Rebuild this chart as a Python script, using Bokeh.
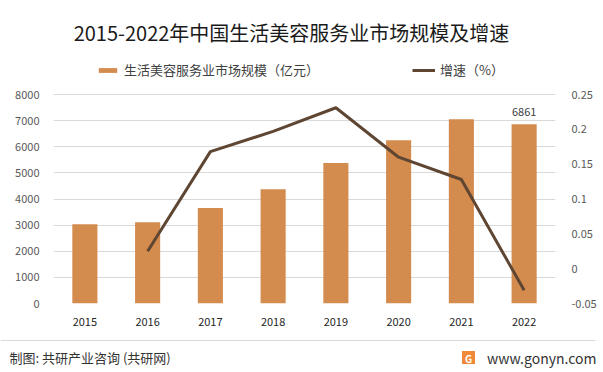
from bokeh.plotting import figure
from bokeh.layouts import column, row
from bokeh.models import (FactorRange, Range1d, LinearAxis, Legend, LegendItem,
                          FixedTicker, ColumnDataSource)
from bokeh.core.properties import value
from bokeh.embed import file_html
from bokeh.resources import INLINE

years = ["2015", "2016", "2017", "2018", "2019", "2020", "2021", "2022"]
market_size = [3032, 3109, 3656, 4371, 5377, 6245, 7048, 6861]
growth_years = ["2016", "2017", "2018", "2019", "2020", "2021", "2022"]
growth_rate = [0.025, 0.168, 0.197, 0.231, 0.160, 0.128, -0.031]
left_ticks = [0, 1000, 2000, 3000, 4000, 5000, 6000, 7000, 8000]
right_ticks = [-0.05, 0, 0.05, 0.1, 0.15, 0.2, 0.25]
right_tick_labels = {-0.05: "-0.05", 0: "0", 0.05: "0.05", 0.1: "0.1", 0.15: "0.15", 0.2: "0.2", 0.25: "0.25"}

title_text = "2015-2022年中国生活美容服务业市场规模及增速"
bar_name = "生活美容服务业市场规模（亿元）"
line_name = "增速（%）"
footer_left = "制图: 共研产业咨询 (共研网)"
footer_right = "www.gonyn.com"

BAR = "#D48B4E"
LINE = "#5E4632"
CJK = "Noto Sans CJK SC"

W = 603
H_TOP = 50
H_MAIN = 286
H_FOOT = 36

frame_h = 251
axis_h = 209
top_frac = frame_h / axis_h
left_max = 8000 * top_frac
right_max = -0.05 + 0.30 * top_frac

# ---- title figure
t = figure(width=W, height=H_TOP, x_range=Range1d(0, W), y_range=Range1d(H_TOP, 0),
           output_backend="svg", toolbar_location=None, x_axis_type=None, y_axis_type=None,
           min_border=0)
t.outline_line_color = None
t.xgrid.grid_line_color = None
t.ygrid.grid_line_color = None
t.text(x=[291], y=[32], text=[title_text], text_align="center", text_baseline="middle",
       text_font=value(CJK), text_font_size="20px", text_color="#1a1a1a")

# ---- main figure
p = figure(width=W, height=H_MAIN, x_range=FactorRange(*years, range_padding=0),
           y_range=Range1d(0, left_max), output_backend="svg", toolbar_location=None,
           min_border_left=53, min_border_right=48, min_border_top=H_MAIN - 33 - frame_h,
           min_border_bottom=33)
p.outline_line_color = None
p.background_fill_color = "white"
p.border_fill_color = "white"
p.extra_y_ranges = {"r": Range1d(-0.05, right_max)}

src = ColumnDataSource(dict(x=years, y=market_size))
bars = p.vbar(x="x", top="y", width=0.4, source=src, fill_color=BAR, line_color=None)
lsrc = ColumnDataSource(dict(x=growth_years, y=growth_rate))
ln = p.line(x="x", y="y", source=lsrc, y_range_name="r", line_color=LINE, line_width=3)

p.yaxis.ticker = FixedTicker(ticks=left_ticks)
for ax in [p.xaxis[0], p.yaxis[0]]:
    ax.axis_line_color = None
    ax.major_tick_line_color = None
    ax.minor_tick_line_color = None
    ax.major_label_text_font = CJK
    ax.major_label_text_font_size = "11px"
p.yaxis.major_label_text_color = "#595959"
p.xaxis.major_label_text_color = "#262626"
p.xaxis.major_label_standoff = 8
p.yaxis.major_label_standoff = 8

rax = LinearAxis(y_range_name="r", ticker=FixedTicker(ticks=right_ticks))
rax.major_label_overrides = right_tick_labels
rax.axis_line_color = None
rax.major_tick_line_color = None
rax.minor_tick_line_color = None
rax.major_label_text_font = CJK
rax.major_label_text_font_size = "11px"
rax.major_label_text_color = "#595959"
rax.major_label_standoff = 10
p.add_layout(rax, "right")

p.xgrid.grid_line_color = None
p.ygrid.grid_line_color = "#D9D9D9"
p.ygrid.grid_line_width = 1

p.text(x=[years[-1]], y=[market_size[-1]], text=[str(market_size[-1])], text_align="center",
       text_baseline="bottom", y_offset=-8, text_font=value(CJK), text_font_size="11px",
       text_color="#404040")

legend = Legend(items=[LegendItem(label=bar_name, renderers=[bars]),
                       LegendItem(label=line_name, renderers=[ln])],
                orientation="horizontal", location=(43, 224), glyph_width=23, glyph_height=6,
                label_height=14, label_standoff=5, spacing=93, padding=0, margin=0,
                label_text_font=CJK, label_text_font_size="13px", label_text_color="#404040",
                background_fill_alpha=0, border_line_color=None)
p.add_layout(legend, "center")

# ---- footer figure
f = figure(width=W, height=H_FOOT, x_range=Range1d(0, W), y_range=Range1d(H_FOOT, 0),
           output_backend="svg", toolbar_location=None, x_axis_type=None, y_axis_type=None,
           min_border=0)
f.outline_line_color = None
f.xgrid.grid_line_color = None
f.ygrid.grid_line_color = None
f.segment(x0=[0], y0=[4], x1=[595], y1=[4], line_color="#DADADA", line_width=1)
f.text(x=[9], y=[21], text=[footer_left], text_align="left", text_baseline="middle",
       text_font=value(CJK), text_font_size="13px", text_color="#333333")
f.text(x=[596], y=[21], text=[footer_right], text_align="right", text_baseline="middle",
       text_font=value(CJK), text_font_size="14px", text_color="#333333")
f.rect(x=[468], y=[21], width=13, height=13, fill_color="#F08A3A", line_color=None)
f.text(x=[468], y=[21.5], text=["G"], text_align="center", text_baseline="middle",
       text_font=value(CJK), text_font_style="bold", text_font_size="10px", text_color="white")

open("out.html", "w").write(file_html(column(row(t), p, row(f), spacing=0), INLINE))
